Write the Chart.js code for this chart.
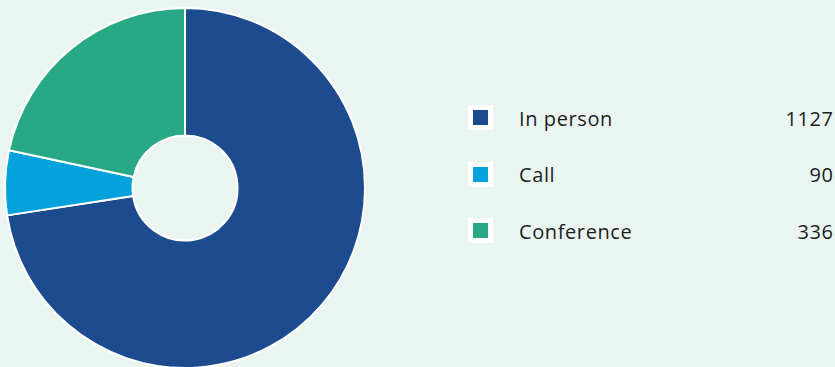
<!DOCTYPE html>
<html>
<head>
<meta charset="utf-8">
<script src="https://cdn.jsdelivr.net/npm/chart.js@4"></script>
<style>
  html, body { margin: 0; padding: 0; background: #eaf4f0; overflow: hidden; }
  body { width: 835px; height: 367px; position: relative; font-family: "Open Sans", sans-serif; color: #1e1e1e; }
  #wrap { position: absolute; left: -1px; top: 0; width: 372px; height: 376px; }
  #legend { position: absolute; left: 468px; top: 105px; width: 365px; }
  .row { position: relative; height: 56.5px; }
  .box { position: absolute; left: 0; top: 0; width: 25px; height: 25px; background: #fff; }
  .box span { position: absolute; left: 5px; top: 5px; width: 15px; height: 15px; }
  .label, .value { position: absolute; top: 12.5px; transform: translateY(-50%); font-size: 20px; letter-spacing: 0.6px; white-space: nowrap; }
  .label { left: 51px; }
  .value { right: -0.6px; }
</style>
</head>
<body>
<div id="wrap"><canvas id="chart" width="372" height="376"></canvas></div>
<div id="legend"></div>
<script>
const categories = ["In person", "Call", "Conference"];
const counts = [1127, 90, 336];
const colors = ["#1c4c8f", "#03a2dd", "#29a886"];

// legend rows: white tile with a colour chip, label, value on the right
const legend = document.getElementById("legend");
categories.forEach((name, i) => {
  const row = document.createElement("div");
  row.className = "row";
  row.innerHTML =
    `<div class="box"><span style="background:${colors[i]}"></span></div>` +
    `<div class="label">${name}</div>` +
    `<div class="value">${counts[i]}</div>`;
  legend.appendChild(row);
});

new Chart(document.getElementById("chart").getContext("2d"), {
  type: "doughnut",
  data: {
    labels: categories,
    datasets: [{
      data: counts,
      backgroundColor: colors,
      borderColor: "#ffffff",
      borderWidth: 2
    }]
  },
  options: {
    responsive: false,
    animation: false,
    radius: 180,
    cutout: 54,
    layout: { padding: 0 },
    plugins: {
      legend: { display: false },
      tooltip: { enabled: false }
    }
  }
});
</script>
</body>
</html>
